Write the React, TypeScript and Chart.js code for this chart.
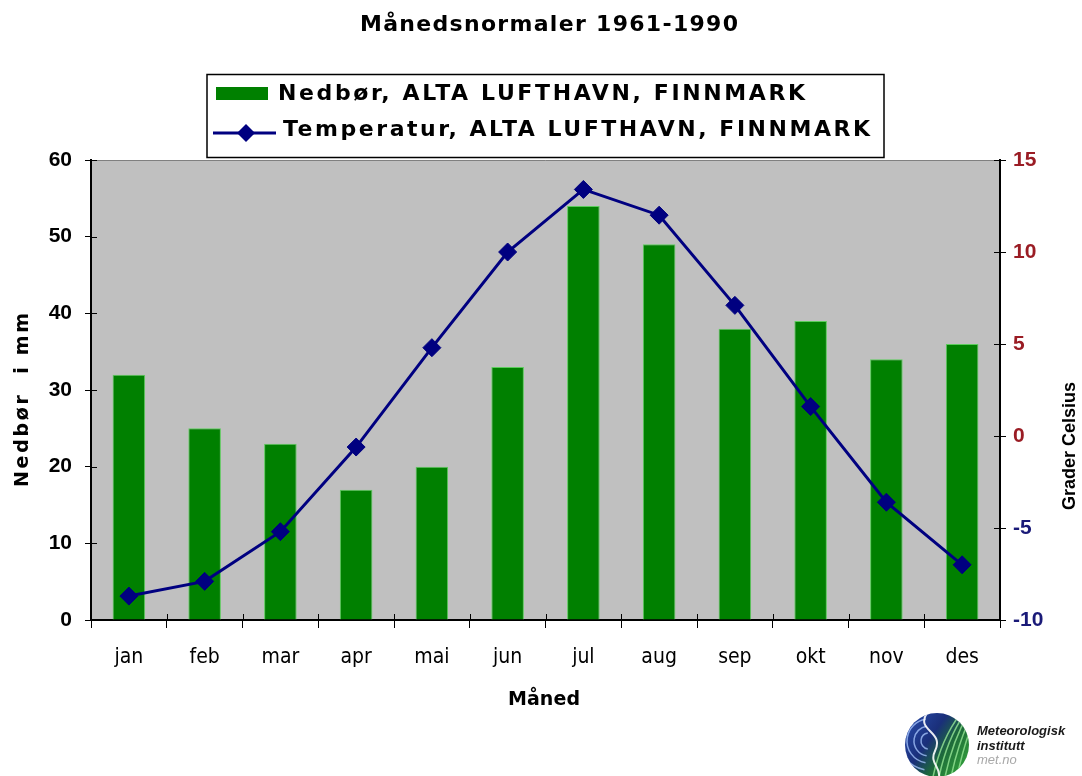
import React, { useEffect, useRef } from 'react';
import { Chart, registerables } from 'chart.js';

Chart.register(...registerables);

const W = 1082;
const H = 776;
const AREA = { left: 91, right: 1000, top: 160, bottom: 620 };

const months = ['jan', 'feb', 'mar', 'apr', 'mai', 'jun', 'jul', 'aug', 'sep', 'okt', 'nov', 'des'];
const precipitation = [32, 25, 23, 17, 20, 33, 54, 49, 38, 39, 34, 36];
const temperature = [-8.7, -7.9, -5.2, -0.6, 4.8, 10.0, 13.4, 12.0, 7.1, 1.6, -3.6, -7.0];

const precipLabel = 'Nedbør, ALTA LUFTHAVN, FINNMARK';
const tempLabel = 'Temperatur, ALTA LUFTHAVN, FINNMARK';
const titleText = 'Månedsnormaler 1961-1990';
const xTitle = 'Måned';
const yLeftTitle = 'Nedbør  i mm';
const yRightTitle = 'Grader Celsius';
const logoLines = ['Meteorologisk', 'institutt', 'met.no'];

const SANS = '"Liberation Sans", Arial, sans-serif';
const WIDE = '"DejaVu Sans", Verdana, sans-serif';
const NARROW = '"Liberation Sans Narrow", "Arial Narrow", "DejaVu Sans Condensed", sans-serif';

const BAR_FILL = '#008000';
const BAR_EDGE = '#5ccc5c';
const LINE_COLOR = '#000080';

function fitText(ctx: CanvasRenderingContext2D, text: string, x: number, y: number, width: number) {
  const c = ctx as any;
  c.letterSpacing = '0px';
  const w = ctx.measureText(text).width;
  const n = Array.from(text).length;
  const ls = n > 1 ? (width - w) / (n - 1) : 0;
  c.letterSpacing = ls.toFixed(2) + 'px';
  ctx.textAlign = 'left';
  ctx.fillText(text, x, y);
  c.letterSpacing = '0px';
}

function seg(ctx: CanvasRenderingContext2D, x1: number, y1: number, x2: number, y2: number) {
  ctx.beginPath();
  ctx.moveTo(x1, y1);
  ctx.lineTo(x2, y2);
  ctx.stroke();
}

function diamond(ctx: CanvasRenderingContext2D, x: number, y: number, r: number) {
  ctx.beginPath();
  ctx.moveTo(x, y - r);
  ctx.lineTo(x + r, y);
  ctx.lineTo(x, y + r);
  ctx.lineTo(x - r, y);
  ctx.closePath();
  ctx.fill();
}

const decorPlugin = {
  id: 'decor',
  beforeDraw(chart: any) {
    const { ctx, chartArea: a } = chart;
    ctx.save();
    ctx.fillStyle = '#ffffff';
    ctx.fillRect(0, 0, chart.width, chart.height);
    ctx.fillStyle = '#c0c0c0';
    ctx.fillRect(a.left, a.top, a.right - a.left, a.bottom - a.top);
    ctx.strokeStyle = '#808080';
    ctx.lineWidth = 1;
    seg(ctx, a.left, a.top + 0.5, a.right, a.top + 0.5);
    ctx.restore();
  },
  afterDraw(chart: any) {
    const { ctx, chartArea: a } = chart;
    const xs = chart.scales.x;
    const yl = chart.scales.y;
    const yr = chart.scales.y1;
    ctx.save();

    // inward halves of the crossing tick marks
    ctx.strokeStyle = '#000';
    ctx.lineWidth = 1;
    yl.ticks.forEach((t: any) => {
      const y = Math.round(yl.getPixelForValue(t.value)) + 0.5;
      seg(ctx, a.left, y, a.left + 6, y);
    });
    yr.ticks.forEach((t: any) => {
      const y = Math.round(yr.getPixelForValue(t.value)) + 0.5;
      seg(ctx, a.right - 6, y, a.right, y);
    });
    const step = (a.right - a.left) / months.length;
    for (let i = 0; i <= months.length; i++) {
      const x = Math.round(xs.getPixelForValue(0) - step / 2 + i * step) + 0.5;
      seg(ctx, x, a.bottom - 6, x, a.bottom);
    }

    // title
    ctx.fillStyle = '#000';
    ctx.textBaseline = 'alphabetic';
    ctx.font = `bold 22px ${WIDE}`;
    fitText(ctx, titleText, 360, 31, 378);

    // legend box
    const ds = chart.data.datasets;
    ctx.strokeStyle = '#000';
    ctx.lineWidth = 1.5;
    ctx.strokeRect(207, 74.5, 677, 83);
    // bar entry
    ctx.fillStyle = ds[1].backgroundColor;
    ctx.fillRect(216, 87, 52, 13);
    ctx.fillStyle = '#000';
    ctx.font = `bold 22px ${WIDE}`;
    fitText(ctx, ds[1].label, 278, 100, 527);
    // line entry
    ctx.strokeStyle = ds[0].borderColor;
    ctx.lineWidth = 3;
    seg(ctx, 213, 133, 276, 133);
    ctx.fillStyle = ds[0].pointBackgroundColor;
    diamond(ctx, 246, 133, 9);
    ctx.fillStyle = '#000';
    fitText(ctx, ds[0].label, 283, 136, 587);

    // axis titles
    ctx.font = `bold 19px ${WIDE}`;
    ctx.fillStyle = '#000';
    fitText(ctx, xTitle, 508, 705, 72);

    ctx.save();
    ctx.translate(28, 400);
    ctx.rotate(-Math.PI / 2);
    ctx.font = `bold 19px ${WIDE}`;
    fitText(ctx, yLeftTitle, -87, 0, 174);
    ctx.restore();

    ctx.save();
    ctx.translate(1075, 446);
    ctx.rotate(-Math.PI / 2);
    ctx.font = `bold 18px ${SANS}`;
    fitText(ctx, yRightTitle, -64, 0, 128);
    ctx.restore();

    // logo globe
    const cx = 937, cy = 745, r = 32;
    ctx.save();
    ctx.beginPath();
    ctx.arc(cx, cy, r, 0, Math.PI * 2);
    ctx.clip();
    const g = ctx.createLinearGradient(cx - r, cy - r, cx + r, cy + r * 0.4);
    g.addColorStop(0, '#2a4fb0');
    g.addColorStop(0.45, '#1a2f7a');
    g.addColorStop(0.7, '#1d6a3a');
    g.addColorStop(1, '#2f9a3a');
    ctx.fillStyle = g;
    ctx.fillRect(cx - r, cy - r, 2 * r, 2 * r);
    ctx.strokeStyle = 'rgba(170,200,255,0.75)';
    ctx.lineWidth = 1.5;
    for (let k = 0; k < 4; k++) {
      ctx.beginPath();
      ctx.arc(cx - 8, cy - 4, 8 + k * 7, Math.PI * 0.55, Math.PI * 1.45);
      ctx.stroke();
    }
    ctx.strokeStyle = 'rgba(150,230,150,0.8)';
    for (let k = 0; k < 5; k++) {
      ctx.beginPath();
      ctx.moveTo(cx - 4 + k * 6, cy + r);
      ctx.quadraticCurveTo(cx + 4 + k * 6, cy - 6, cx + 24 + k * 4, cy - r);
      ctx.stroke();
    }
    ctx.strokeStyle = 'rgba(255,255,255,0.9)';
    ctx.lineWidth = 2;
    ctx.beginPath();
    ctx.moveTo(cx - 10, cy - r);
    ctx.bezierCurveTo(cx - 22, cy - 14, cx + 8, cy - 14, cx - 2, cy + 6);
    ctx.bezierCurveTo(cx - 8, cy + 18, cx + 4, cy + 22, cx + 2, cy + r);
    ctx.stroke();
    ctx.restore();

    ctx.textAlign = 'left';
    ctx.fillStyle = '#1a1a1a';
    ctx.font = `italic bold 13px ${SANS}`;
    ctx.fillText(logoLines[0], 977, 735);
    ctx.fillText(logoLines[1], 977, 750);
    ctx.fillStyle = '#a8a8a8';
    ctx.font = `italic 13px ${SANS}`;
    ctx.fillText(logoLines[2], 977, 764);

    ctx.restore();
  },
};

export default function App() {
  const ref = useRef<HTMLCanvasElement | null>(null);

  useEffect(() => {
    if (!ref.current) return;
    const chart = new Chart(ref.current, {
      type: 'bar',
      data: {
        labels: months,
        datasets: [
          {
            type: 'line',
            label: tempLabel,
            data: temperature,
            yAxisID: 'y1',
            borderColor: LINE_COLOR,
            backgroundColor: LINE_COLOR,
            pointBackgroundColor: LINE_COLOR,
            pointBorderColor: LINE_COLOR,
            borderWidth: 3,
            pointStyle: 'rectRot',
            pointRadius: 9,
            pointBorderWidth: 1,
            tension: 0,
            order: 0,
          } as any,
          {
            type: 'bar',
            label: precipLabel,
            data: precipitation,
            yAxisID: 'y',
            backgroundColor: BAR_FILL,
            borderColor: BAR_EDGE,
            borderWidth: 1,
            categoryPercentage: 1,
            barPercentage: 0.43,
            order: 1,
          } as any,
        ],
      },
      options: {
        responsive: false,
        devicePixelRatio: 1,
        animation: false,
        layout: { padding: { top: AREA.top, left: 0, right: 0, bottom: 0 } },
        plugins: {
          legend: { display: false },
          title: { display: false },
          tooltip: { enabled: false },
        },
        scales: {
          x: {
            type: 'category',
            offset: true,
            grid: { offset: true, drawOnChartArea: false, drawTicks: true, tickLength: 8, color: '#000', lineWidth: 1 },
            border: { display: true, color: '#000', width: 2 },
            ticks: {
              color: '#000',
              font: { family: NARROW, size: 21 },
              padding: 17,
              maxRotation: 0,
              autoSkip: false,
            },
            afterFit: (s: any) => { s.height = H - AREA.bottom; },
          },
          y: {
            type: 'linear',
            position: 'left',
            min: 0,
            max: 60,
            grid: { drawOnChartArea: false, drawTicks: true, tickLength: 6, color: '#000', lineWidth: 1 },
            border: { display: true, color: '#000', width: 2 },
            ticks: {
              stepSize: 10,
              color: '#000',
              font: { family: SANS, size: 21, weight: 'bold' },
              padding: 13,
            },
            afterFit: (s: any) => { s.width = AREA.left; },
          },
          y1: {
            type: 'linear',
            position: 'right',
            min: -10,
            max: 15,
            grid: { drawOnChartArea: false, drawTicks: true, tickLength: 6, color: '#000', lineWidth: 1 },
            border: { display: true, color: '#000', width: 2 },
            ticks: {
              stepSize: 5,
              color: (c: any) => (c.tick && c.tick.value < 0 ? '#1a1a78' : '#9a1c24'),
              font: { family: SANS, size: 21, weight: 'bold' },
              padding: 7,
            },
            afterFit: (s: any) => { s.width = W - AREA.right; },
          },
        },
      } as any,
      plugins: [decorPlugin],
    });
    return () => chart.destroy();
  }, []);

  return (
    <div style={{ position: 'fixed', left: 0, top: 0, width: W, height: H, background: '#fff' }}>
      <canvas ref={ref} width={W} height={H} style={{ display: 'block', width: W, height: H }} />
    </div>
  );
}
